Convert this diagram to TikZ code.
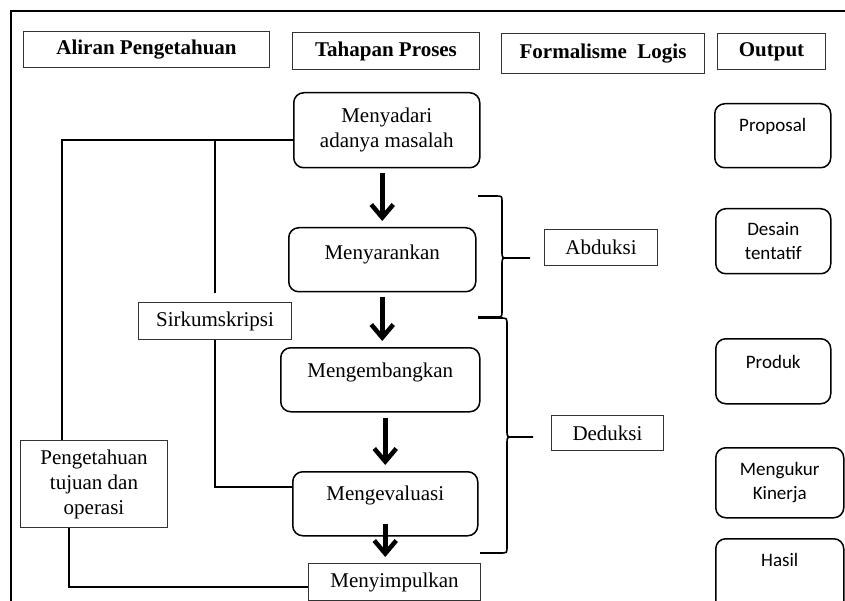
\documentclass[tikz,border=0pt]{standalone}
\usepackage{fontspec}
\setmainfont{Liberation Serif}
\newfontfamily\calfont{Carlito}
\usetikzlibrary{arrows.meta}
\tikzset{
    judul/.style={draw=black!80, line width=1pt, inner sep=0pt, anchor=north west,
        font=\fontsize{21}{24}\selectfont\bfseries},
    kotak/.style={draw=black!80, line width=1pt, inner sep=0pt, anchor=north west,
        align=center, font=\fontsize{21}{25}\selectfont},
    tahap/.style={draw, line width=1.5pt, rounded corners=10pt, inner sep=0pt,
        anchor=north west, align=center, font=\fontsize{21}{25}\selectfont},
    hasil/.style={draw, line width=1.5pt, rounded corners=10pt, inner sep=0pt,
        anchor=north west, align=center, font=\fontsize{19}{24}\selectfont\calfont},
    alir/.style={line width=1.6pt},
    panah/.style={line width=4.5pt, -{Straight Barb[length=13pt,width=22pt,line width=4.5pt]},
        shorten <=5pt, shorten >=6pt},
    kurung/.style={line width=1.6pt},
}

\begin{document}
\begin{tikzpicture}[x=1pt, y=-1pt]
\useasboundingbox (0,0) rectangle (845,601);
\clip (0,0) rectangle (845,601);
\draw[line width=1.5pt] (11,601) -- (11,11) -- (845,11);

\node[judul, minimum width=246pt, minimum height=36pt] (aliran) at (23,31) {Aliran Pengetahuan};
\node[judul, minimum width=187pt, minimum height=37pt] (tahapan) at (292,32) {Tahapan Proses};
\node[judul, minimum width=203pt, minimum height=40pt] (formal) at (501,33) {Formalisme\ \ Logis};
\node[judul, minimum width=108pt, minimum height=36pt] (output) at (717,33) {Output};

\node[tahap, minimum width=186pt, minimum height=75pt] (sadar) at (293,92) {Menyadari\\adanya masalah};
\node[tahap, minimum width=187pt, text height=32pt, text depth=32pt] (saran) at (288,227) {Menyarankan};
\node[tahap, minimum width=199pt, text height=30pt, text depth=34pt] (kembang) at (280,347) {Mengembangkan};
\node[tahap, minimum width=185pt, text height=29pt, text depth=35pt] (evaluasi) at (292,471) {Mengevaluasi};
\node[kotak, minimum width=172pt, minimum height=37pt] (simpul) at (308,563) {Menyimpulkan};

\node[kotak, minimum width=153pt, minimum height=37pt] (sirkum) at (138,302) {Sirkumskripsi};
\node[kotak, minimum width=147pt, minimum height=87pt] (tujuan) at (20,440) {Pengetahuan\\tujuan dan\\operasi};

\node[kotak, minimum width=113pt, minimum height=36pt] (abduksi) at (544,229) {Abduksi};
\node[kotak, minimum width=112pt, minimum height=35pt] (deduksi) at (551,415) {Deduksi};

\node[hasil, minimum width=116pt, text height=28pt, text depth=36pt] (proposal) at (714,103) {Proposal};
\node[hasil, minimum width=115pt, minimum height=65pt] (desain) at (715,208) {Desain\\tentatif};
\node[hasil, minimum width=115pt, text height=30pt, text depth=35pt] (produk) at (715,338) {Produk};
\node[hasil, minimum width=128pt, minimum height=70pt] (ukur) at (715,447) {Mengukur\\Kinerja};
\node[hasil, minimum width=128pt, text height=28pt, text depth=50pt] (hsl) at (715,538) {Hasil};

\coordinate (simpang) at (62,140);
\draw[alir] (sadar.west |- simpang) -- (simpang) -- (simpang |- tujuan.north);
\draw[alir, shorten >=9pt] (sirkum.north |- simpang) -- (sirkum.north);
\draw[alir] (sirkum.south) |- ([yshift=17pt]evaluasi.west);
\draw[alir] ([xshift=-25pt]tujuan.south) |- ([yshift=-5pt]simpul.west);

\draw[panah] (sadar.south -| saran.north) -- (saran.north);
\draw[panah] (saran.south) -- (saran.south |- kembang.north);
\draw[panah] (kembang.south -| evaluasi.north) -- (evaluasi.north);
\draw[panah, shorten <=0pt] ([yshift=13pt]evaluasi.south) -- (evaluasi.south |- simpul.north);

\draw[kurung] (478,196) -- (496,196) .. controls (502,196) .. (502,202) -- (502,251) .. controls (502,258) .. (508,258) -- (530,258);
\draw[kurung] (508,258) .. controls (502,258) .. (502,265) -- (502,311) .. controls (502,317) .. (496,317) -- (478,317);
\draw[kurung] (478,318) -- (500,318) .. controls (507,318) .. (507,325) -- (507,430) .. controls (507,437) .. (513,437) -- (533,437);
\draw[kurung] (513,437) .. controls (507,437) .. (507,444) -- (507,547) .. controls (507,553) .. (500,553) -- (480,553);
\end{tikzpicture}
\end{document}
